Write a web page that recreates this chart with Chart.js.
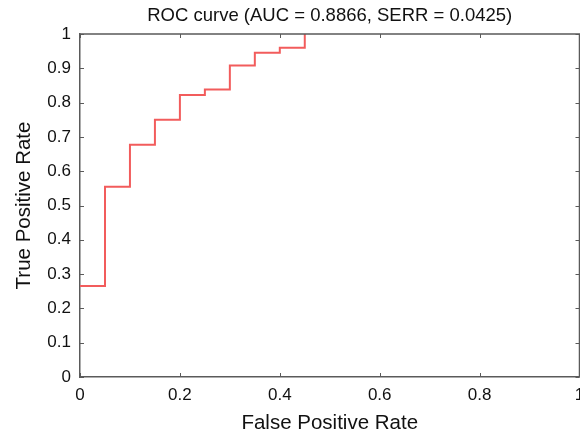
<!DOCTYPE html>
<html>
<head>
<meta charset="utf-8">
<script src="https://cdn.jsdelivr.net/npm/chart.js@4/dist/chart.umd.min.js"></script>
<style>
    html, body { margin: 0; padding: 0; background: #fff; overflow: hidden; }
    #wrap { width: 590px; height: 437px; }
</style>
</head>
<body>
<div id="wrap"><canvas id="rocChart" width="590" height="437"></canvas></div>
<script>
const FONT = '"Liberation Sans", Arial, Helvetica, sans-serif';

// ROC curve step points
const fpr = [0, 0.05, 0.10, 0.15, 0.20, 0.25, 0.30, 0.35, 0.40, 0.45];
const tpr = [0.265, 0.555, 0.677, 0.750, 0.822, 0.838, 0.908, 0.945, 0.960, 1.0];

const xTickValues = [0, 0.2, 0.4, 0.6, 0.8, 1];
const yTickValues = [0, 0.1, 0.2, 0.3, 0.4, 0.5, 0.6, 0.7, 0.8, 0.9, 1];

const titleText = 'ROC curve (AUC = 0.8866, SERR = 0.0425)';
const xTitle = 'False Positive Rate';
const yTitle = 'True Positive Rate';

const AXIS_COLOR = '#5a5a5a';

// MATLAB-like box with inward ticks on all four sides
const boxTicks = {
    id: 'boxTicks',
    afterDraw(chart) {
        const { ctx, chartArea: a, scales } = chart;
        const len = 4;
        ctx.save();
        ctx.strokeStyle = AXIS_COLOR;
        ctx.lineWidth = 1.5;
        ctx.beginPath();
        ctx.moveTo(a.left, a.top);
        ctx.lineTo(a.right, a.top);
        ctx.lineTo(a.right, a.bottom);
        ctx.stroke();
        ctx.lineWidth = 1;
        ctx.beginPath();
        scales.x.ticks.forEach(t => {
            const px = Math.round(scales.x.getPixelForValue(t.value)) + 0.5;
            ctx.moveTo(px, a.bottom); ctx.lineTo(px, a.bottom - len);
            ctx.moveTo(px, a.top); ctx.lineTo(px, a.top + len);
        });
        scales.y.ticks.forEach(t => {
            const py = Math.round(scales.y.getPixelForValue(t.value)) + 0.5;
            ctx.moveTo(a.left, py); ctx.lineTo(a.left + len, py);
            ctx.moveTo(a.right, py); ctx.lineTo(a.right - len, py);
        });
        ctx.stroke();
        ctx.restore();
    }
};

new Chart(document.getElementById('rocChart').getContext('2d'), {
    type: 'line',
    data: {
        datasets: [{
            label: 'ROC',
            data: fpr.map((x, i) => ({ x: x, y: tpr[i] })),
            borderColor: '#f25c5c',
            borderWidth: 2,
            stepped: 'before',
            pointRadius: 0,
            fill: false
        }]
    },
    options: {
        responsive: false,
        animation: false,
        layout: { padding: { left: 0, right: 10.5, top: 0, bottom: 0 } },
        plugins: {
            legend: { display: false },
            tooltip: { enabled: false },
            title: {
                display: true,
                text: titleText,
                fullSize: false,
                color: '#111',
                font: { family: FONT, size: 18.5, weight: 'normal', lineHeight: 1.2 },
                padding: { top: 5, bottom: 6.8 }
            }
        },
        scales: {
            x: {
                type: 'linear',
                min: 0, max: 1,
                afterBuildTicks: s => { s.ticks = xTickValues.map(v => ({ value: v })); },
                afterFit: s => { s.height = 60; s.paddingRight = 0; },
                ticks: {
                    color: '#111',
                    padding: 8,
                    maxRotation: 0,
                    font: { family: FONT, size: 17 },
                    callback: v => String(v)
                },
                grid: { drawOnChartArea: false, drawTicks: false },
                border: { display: true, color: AXIS_COLOR, width: 1.5 },
                title: {
                    display: true,
                    text: xTitle,
                    color: '#111',
                    font: { family: FONT, size: 20.5, lineHeight: 1.2 },
                    padding: { top: 0, bottom: 1 }
                }
            },
            y: {
                type: 'linear',
                min: 0, max: 1,
                afterBuildTicks: s => { s.ticks = yTickValues.map(v => ({ value: v })); },
                afterFit: s => { s.width = 80; },
                ticks: {
                    color: '#111',
                    padding: 9,
                    font: { family: FONT, size: 17 },
                    callback: v => String(v)
                },
                grid: { drawOnChartArea: false, drawTicks: false },
                border: { display: true, color: AXIS_COLOR, width: 1.5 },
                title: {
                    display: true,
                    text: yTitle,
                    color: '#111',
                    font: { family: FONT, size: 20.5, lineHeight: 1.2 },
                    padding: { top: 12, bottom: 0 }
                }
            }
        }
    },
    plugins: [boxTicks]
});
</script>
</body>
</html>
